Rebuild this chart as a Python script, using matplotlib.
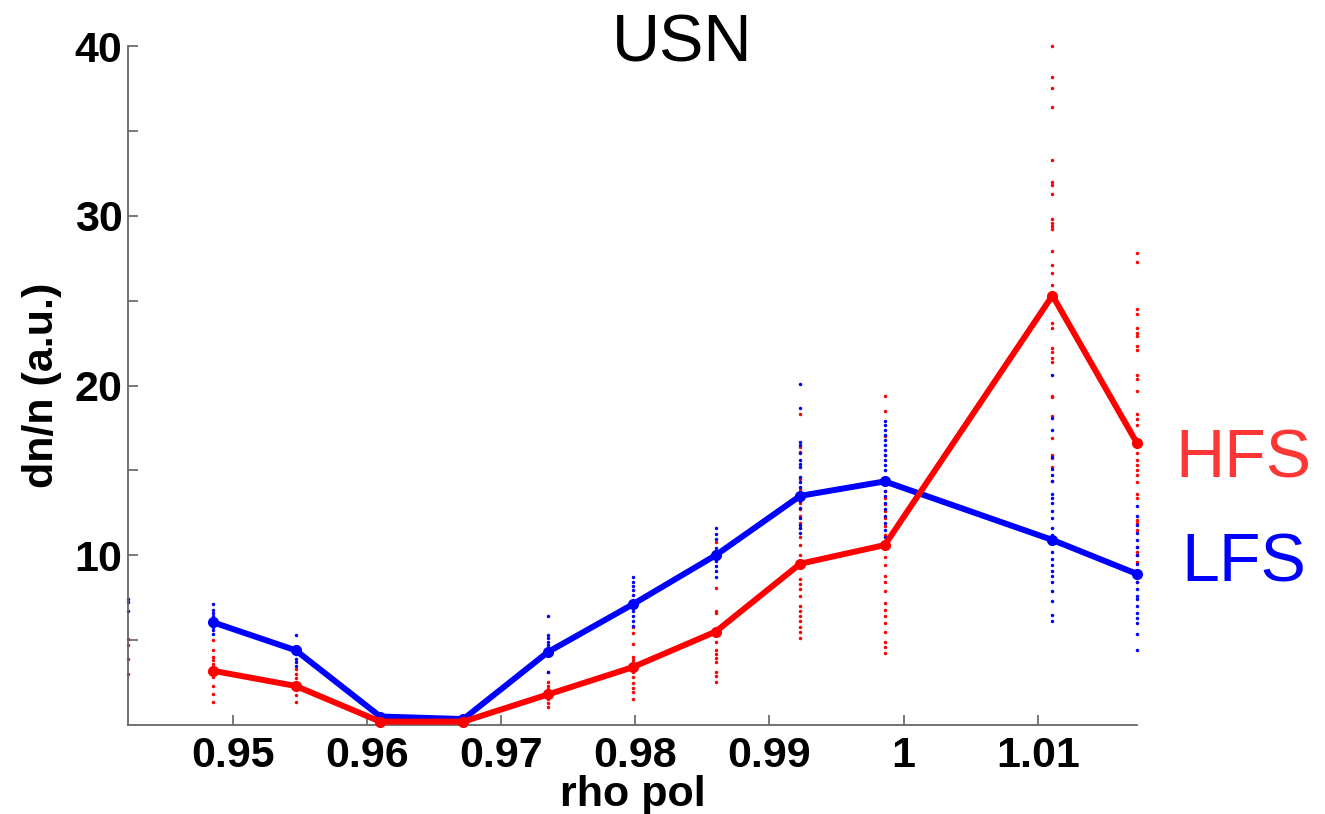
import matplotlib
matplotlib.use("Agg")
import matplotlib.pyplot as plt
import numpy as np

plt.rcParams['font.family'] = ['Liberation Sans', 'DejaVu Sans']

# rho pol positions of the probe channels
rho = [0.9422, 0.9485, 0.9547, 0.9610, 0.9672, 0.9735, 0.9798,
       0.9860, 0.9923, 0.9986, 1.0048, 1.0111, 1.0174]

# mean profiles (channels with data only)
hfs_idx = [1, 2, 3, 4, 5, 6, 7, 8, 9, 11, 12]
hfs_mean = [3.2, 2.3, 0.2, 0.2, 1.8, 3.4, 5.5, 9.5, 10.6, 25.3, 16.6]
lfs_idx = [1, 2, 3, 4, 5, 6, 7, 8, 9, 11, 12]
lfs_mean = [6.06, 4.4, 0.5, 0.35, 4.3, 7.1, 10.0, 13.5, 14.35, 10.9, 8.9]

# individual samples per channel
hfs_pts = {
    0: [5.06, 4.7, 3.9, 3.0],
    1: [5.0, 4.4, 4.0, 3.8, 3.6, 3.3, 2.8, 2.3, 1.8, 1.35],
    2: [3.3, 3.0, 2.75, 2.5, 2.1, 1.75, 1.35],
    3: [0.1, 0.2, 0.3],
    4: [0.1, 0.2, 0.3],
    5: [3.1, 2.55, 2.3, 2.1, 1.53, 1.3, 1.05],
    6: [7.1, 5.75, 5.4, 4.76, 4.0, 3.8, 3.6, 3.1, 2.8, 2.5, 2.2, 1.95, 1.53],
    7: [10.8, 10.0, 8.1, 6.7, 6.6, 4.9, 4.4, 4.2, 3.95, 3.7, 3.1, 2.9, 2.55],
    8: [18.3, 16.4, 16.1, 14.5, 13.9, 13.1, 12.7, 12.3, 11.9, 11.6, 11.1,
        10.6, 10.0, 8.6, 8.3, 8.0, 7.6, 7.0, 6.7, 6.4, 6.1, 5.8, 5.45, 5.1],
    9: [19.4, 18.5, 17.0, 15.9, 14.2, 13.8, 13.4, 13.0, 12.6, 12.2, 11.7,
        11.2, 9.9, 9.4, 8.8, 8.4, 7.9, 7.2, 6.8, 6.4, 6.0, 5.45, 4.9, 4.6, 4.27],
    11: [40.0, 38.2, 37.5, 36.4, 33.3, 32.0, 31.8, 31.3, 29.8, 29.6, 29.4,
         29.2, 27.9, 27.1, 26.6, 25.9, 23.7, 23.4, 22.2, 22.0, 21.6, 21.4,
         19.4, 19.3, 18.2, 16.9, 15.9, 15.7, 15.2, 14.4],
    12: [27.8, 27.3, 24.5, 24.2, 23.4, 23.1, 22.9, 22.3, 22.1, 20.6, 20.4,
         19.7, 18.3, 18.0, 17.7, 16.0, 15.6, 15.3, 15.0, 14.7, 14.3, 13.6,
         13.4, 12.1, 11.9, 11.5, 10.5, 10.2, 10.0, 9.6, 9.0, 8.7, 8.4],
}
lfs_pts = {
    0: [7.4, 7.25, 6.7],
    1: [7.1, 6.8, 6.6, 6.45, 6.3, 6.0, 5.8, 5.6, 5.35],
    2: [5.3, 4.6, 4.2, 3.9, 3.7, 3.5],
    3: [0.4, 0.5, 0.6],
    4: [0.3, 0.4, 0.5],
    5: [6.4, 5.3, 5.1, 4.9, 4.7, 4.1, 3.1],
    6: [8.7, 8.45, 8.2, 7.95, 7.65, 7.35, 6.7, 6.4, 6.1, 5.85],
    7: [11.6, 11.25, 10.95, 10.45, 9.65, 9.35, 9.1, 8.7],
    8: [20.1, 18.7, 16.7, 16.5, 16.0, 15.6, 15.4, 15.2, 14.6, 14.3, 14.0,
        13.2, 12.8, 12.2, 11.8, 11.6, 11.3],
    9: [17.9, 17.7, 17.4, 17.1, 16.8, 16.5, 16.2, 15.9, 15.6, 15.3, 15.0,
        13.8, 13.5, 13.1, 12.7, 12.3, 11.9, 11.5, 11.1],
    11: [20.6, 18.1, 17.4, 15.8, 15.1, 14.7, 14.4, 13.6, 13.4, 13.1, 12.6,
         12.2, 11.6, 11.2, 10.7, 10.2, 9.8, 9.4, 9.1, 8.8, 8.4, 7.9, 7.3,
         6.5, 6.15],
    12: [12.9, 12.3, 11.8, 11.3, 10.9, 10.5, 10.0, 9.5, 8.8, 8.4, 8.0,
         7.6, 7.4, 7.0, 6.6, 6.3, 6.0, 5.35, 4.4],
}

red = '#ff0000'
blue = '#0000ff'

fig = plt.figure(figsize=(13.25, 8.14), dpi=100)
ax = fig.add_axes([128/1325, 89/814, 1009/1325, 679/814])

for i, vals in hfs_pts.items():
    ax.plot([rho[i]]*len(vals), vals, 'o', color=red, ms=2.5, mew=0, clip_on=False)
for i, vals in lfs_pts.items():
    ax.plot([rho[i]]*len(vals), vals, 'o', color=blue, ms=2.5, mew=0, clip_on=False)

ax.plot([rho[i] for i in lfs_idx], lfs_mean, '-o', color=blue, lw=4.3, ms=7,
        clip_on=False, zorder=3)
ax.plot([rho[i] for i in hfs_idx], hfs_mean, '-o', color=red, lw=4.3, ms=7,
        clip_on=False, zorder=4)

ax.set_xlim(rho[0], rho[-1])
ax.set_ylim(0, 40)
ax.set_xticks([0.95, 0.96, 0.97, 0.98, 0.99, 1.0, 1.01])
ax.set_xticklabels(['0.95', '0.96', '0.97', '0.98', '0.99', '1', '1.01'])
ax.set_yticks([5, 10, 15, 20, 25, 30, 35, 40])
ax.set_yticklabels(['', '10', '', '20', '', '30', '', '40'])
for s in ['top', 'right']:
    ax.spines[s].set_visible(False)
for s in ['left', 'bottom']:
    ax.spines[s].set_color('#666666')
    ax.spines[s].set_linewidth(1.3)
ax.tick_params(direction='in', length=7, width=1.1, color='#555555',
               labelsize=31)
ax.tick_params(axis='x', pad=8)
ax.tick_params(axis='y', pad=4)
for lab in ax.get_xticklabels() + ax.get_yticklabels():
    lab.set_fontweight('bold')

fig.text(682/1325, 1 - 62/814, 'USN', fontsize=48, ha='center', va='baseline')
fig.text(633/1325, 1 - 806/814, 'rho pol', fontsize=31, fontweight='bold',
         ha='center', va='baseline')
fig.text(42/1325, 1 - 385/814, 'dn/n (a.u.)', fontsize=31, fontweight='bold',
         rotation=90, ha='center', va='center')
fig.text(1175/1325, 1 - 477/814, 'HFS', fontsize=49, color='#ff3636',
         ha='left', va='baseline')
fig.text(1181/1325, 1 - 582/814, 'LFS', fontsize=49, color=blue,
         ha='left', va='baseline')

fig.savefig('out.png', dpi=100)
